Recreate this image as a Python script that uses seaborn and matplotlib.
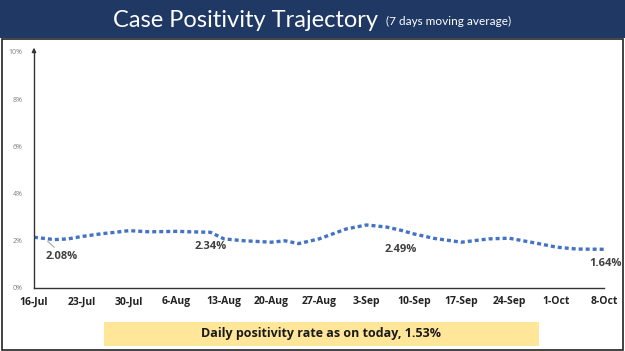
import matplotlib
matplotlib.use("Agg")
import matplotlib.pyplot as plt
from matplotlib.patches import Rectangle
import seaborn as sns
import pandas as pd

# ---- data ----
dates = ["2020-07-16", "2020-07-19", "2020-07-21", "2020-07-23", "2020-07-26", "2020-07-28",
         "2020-07-30", "2020-08-02", "2020-08-06", "2020-08-08", "2020-08-11", "2020-08-13",
         "2020-08-16", "2020-08-20", "2020-08-22", "2020-08-24", "2020-08-27", "2020-08-31",
         "2020-09-03", "2020-09-06", "2020-09-08", "2020-09-10", "2020-09-13", "2020-09-17",
         "2020-09-21", "2020-09-24", "2020-09-28", "2020-10-01", "2020-10-04", "2020-10-08"]
positivity = [2.15, 2.05, 2.08, 2.18, 2.30, 2.36,
              2.43, 2.38, 2.40, 2.38, 2.36, 2.08,
              2.00, 1.94, 2.00, 1.88, 2.08, 2.50,
              2.67, 2.58, 2.45, 2.29, 2.10, 1.94,
              2.08, 2.11, 1.90, 1.73, 1.65, 1.64]
tick_dates = ["2020-07-16", "2020-07-23", "2020-07-30", "2020-08-06", "2020-08-13", "2020-08-20",
              "2020-08-27", "2020-09-03", "2020-09-10", "2020-09-17", "2020-09-24", "2020-10-01",
              "2020-10-08"]
tick_labels = ["16-Jul", "23-Jul", "30-Jul", "6-Aug", "13-Aug", "20-Aug", "27-Aug", "3-Sep",
               "10-Sep", "17-Sep", "24-Sep", "1-Oct", "8-Oct"]
y_ticks = [0, 2, 4, 6, 8, 10]
y_labels = ["0%", "2%", "4%", "6%", "8%", "10%"]
annot_dates = ["2020-07-19", "2020-08-11", "2020-09-08", "2020-10-08"]
annot_text = ["2.08%", "2.34%", "2.49%", "1.64%"]
annot_vals = [2.05, 2.36, 2.45, 1.64]
title = "Case Positivity Trajectory"
subtitle = "(7 days moving average)"
footer = "Daily positivity rate as on today, 1.53%"

df = pd.DataFrame({"date": pd.to_datetime(dates), "rate": positivity})

sns.set_theme(style="white")
plt.rcParams["font.family"] = ["Open Sans", "DejaVu Sans"]

fig = plt.figure(figsize=(6.25, 3.51), dpi=100)
fig.patch.set_facecolor("white")

# title banner
fig.patches.append(Rectangle((0, 0.892), 1, 0.108, transform=fig.transFigure,
                             facecolor="#1f3864", edgecolor="none", zorder=0))
fig.text(0.605, 0.942, title, color="white", fontsize=17, ha="right", va="center",
         family=["Lato", "DejaVu Sans"])
fig.text(0.617, 0.938, subtitle, color="white", fontsize=8.5, ha="left", va="center",
         family=["Lato", "DejaVu Sans"])
# chart frame
fig.patches.append(Rectangle((0.003, 0.003), 0.994, 0.885, transform=fig.transFigure,
                             facecolor="none", edgecolor="#222222", linewidth=1.2, zorder=0))

ax = fig.add_axes([0.0544, 0.1795, 0.912, 0.6725])
sns.lineplot(data=df, x="date", y="rate", ax=ax, color="#4472c4", linewidth=2.4,
             linestyle=(0, (1.2, 0.9)))

ax.set_ylim(0, 10)
ax.set_xlim(pd.Timestamp(tick_dates[0]), pd.Timestamp(tick_dates[-1]))
ax.set_yticks(y_ticks)
ax.set_yticklabels(y_labels, fontsize=5, color="#7f7f7f")
ax.set_xticks(pd.to_datetime(tick_dates))
ax.set_xticklabels(tick_labels, fontsize=7.5, fontweight="bold", color="#222222",
                   family=["Open Sans", "DejaVu Sans"])
ax.set_xlabel("")
ax.set_ylabel("")
for s in ["top", "right"]:
    ax.spines[s].set_visible(False)
for s in ["left", "bottom"]:
    ax.spines[s].set_color("#333333")
    ax.spines[s].set_linewidth(1.0)
ax.tick_params(axis="x", direction="out", length=3, width=1, color="#333333", pad=3)
ax.tick_params(axis="y", direction="out", length=2, width=0.8, color="#333333", pad=6)
ax.annotate("", xy=(0, 1.03), xytext=(0, 0.99), xycoords="axes fraction",
            arrowprops=dict(arrowstyle="-|>", color="#333333", lw=1, mutation_scale=6))

offsets = [(5, -12), (0, -10), (0, -14), (1, -10)]
for d, t, v, off in zip(annot_dates, annot_text, annot_vals, offsets):
    ax.annotate(t, xy=(pd.Timestamp(d), v), xytext=off, textcoords="offset points",
                ha="center", va="center", fontsize=8, fontweight="bold", color="#404040")
ax.plot([pd.Timestamp("2020-07-18"), pd.Timestamp("2020-07-19")], [1.98, 1.72],
        color="#a6a6a6", lw=0.8)

# footer box
fig.patches.append(Rectangle((0.166, 0.015), 0.696, 0.068, transform=fig.transFigure,
                             facecolor="#ffe699", edgecolor="none", zorder=0))
fig.text(0.514, 0.049, footer, fontsize=9, fontweight="bold", color="#1a1a1a",
         ha="center", va="center")

fig.savefig("out.png", dpi=100)
